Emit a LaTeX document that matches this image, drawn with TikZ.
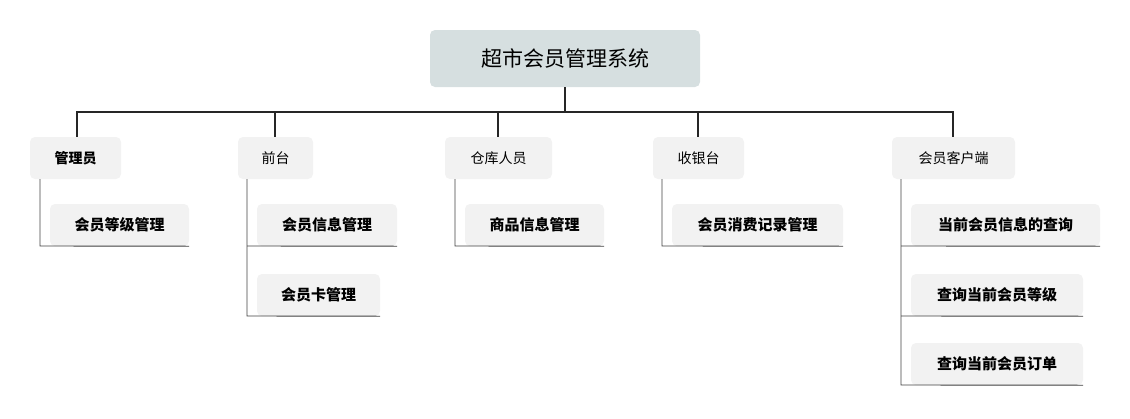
\documentclass[tikz,border=0pt]{standalone}
\usepackage{fontspec}
\setmainfont{Noto Sans CJK SC}
\definecolor{rootfill}{HTML}{D6DFE0}
\begin{document}
\begin{tikzpicture}[x=1pt,y=-1pt,
  box/.style={fill=black!5,rounded corners=5pt,inner sep=0pt},
  cat/.style={box,font=\fontsize{14}{14}\selectfont},
  ch/.style={box,font=\fontsize{15}{15}\selectfont\bfseries},
  ln/.style={line width=1.3pt,draw=black!85},
  tl/.style={line width=0.9pt,draw=black!75}]
\useasboundingbox (0,0) rectangle (1130,418);
\node[box,fill=rootfill,minimum width=270,minimum height=57,font=\fontsize{21}{21}\selectfont] (root) at (565,58.5) {超市会员管理系统};
\foreach \n/\t/\a/\b/\f in {c1/管理员/30/121/\bfseries,c2/前台/238/313/,c3/仓库人员/445/552/,c4/收银台/653/744/,c5/会员客户端/892/1015/}{
  \node[cat,minimum width=\b-\a,minimum height=42] (\n) at ({(\a+\b)/2},158) {\f\t};}
\coordinate (bl) at (77,112); \coordinate (br) at (953,112);
\draw[ln] (root.south) -- (565,112);
\draw[ln] (c1.north -| bl) -- (bl) -- (br) -- (c5.north -| br);
\foreach \x/\n in {275/c2,498/c3,698/c4}{\draw[ln] (\x,112) -- (\x,137);}
\foreach \n/\t/\a/\b/\y in {k1/会员等级管理/50/189/225,k2/会员信息管理/257/397/225,k3/会员卡管理/257/380/295,k4/商品信息管理/465/604/225,k5/会员消费记录管理/672/843/225,k6/当前会员信息的查询/911/1100/225,k7/查询当前会员等级/911/1083/295,k8/查询当前会员订单/911/1083/364}{
  \node[ch,minimum width=\b-\a,minimum height=42] (\n) at ({(\a+\b)/2},\y) {\t};}
\draw[tl] (40,179) -- (40,246) -- (k1.south east);
\draw[tl] (247,179) -- (247,316) -- (k3.south east);
\draw[tl] (247,246) -- (k2.south east);
\draw[tl] (455,179) -- (455,246) -- (k4.south east);
\draw[tl] (662,179) -- (662,246) -- (k5.south east);
\draw[tl] (901,179) -- (901,385) -- (k8.south east);
\draw[tl] (901,246) -- (k6.south east);
\draw[tl] (901,316) -- (k7.south east);
\end{tikzpicture}
\end{document}
